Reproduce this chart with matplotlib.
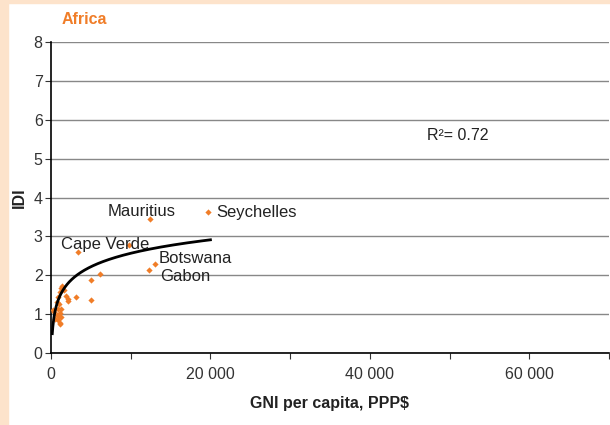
import numpy as np
import matplotlib.pyplot as plt
from matplotlib.patches import Rectangle
from matplotlib.ticker import FuncFormatter

# GNI per capita (PPP$) and IDI for African countries
gni = [19750, 12400, 9750, 3400, 13100, 12250, 6200, 4960, 3080, 4960,
       1420, 1250, 1580, 1170, 1830, 2080, 2170, 920, 710, 1000,
       250, 420, 920, 1250, 710, 1000, 1250, 920, 1080, 500, 1125, 1125]
idi = [3.62, 3.44, 2.78, 2.60, 2.29, 2.13, 2.02, 1.88, 1.44, 1.37,
       1.72, 1.67, 1.62, 1.58, 1.47, 1.40, 1.34, 1.43, 1.32, 1.27,
       1.10, 1.06, 1.12, 1.12, 0.98, 0.93, 0.92, 0.85, 0.76, 0.87, 1.04, 0.74]

labels = ['Mauritius', 'Seychelles', 'Cape Verde', 'Botswana', 'Gabon']
label_x = [7125, 20750, 1250, 13500, 13750]
label_y = [3.65, 3.62, 2.80, 2.42, 1.98]

# logarithmic trend line y = a*ln(x) + b
trend_a = 0.50
trend_b = -2.04
trend_range = [160, 20000]
r2_text = 'R\u00b2= 0.72'

orange = '#F07D28'
peach = '#FDE3CB'

plt.rcParams['font.family'] = ['Liberation Sans', 'DejaVu Sans']

fig = plt.figure(figsize=(6.1, 4.25), dpi=100)
# peach frame strips on left and top
fig.patches.append(Rectangle((0, 0), 8 / 610, 1, transform=fig.transFigure,
                             color=peach, zorder=0))
fig.patches.append(Rectangle((0, 1 - 3 / 425), 1, 3 / 425, transform=fig.transFigure,
                             color=peach, zorder=0))

ax = fig.add_axes([51 / 610, 72 / 425, 558 / 610, 311 / 425])

ax.scatter(gni, idi, marker='D', s=10, color=orange, zorder=3, linewidths=0)

xs = np.linspace(trend_range[0], trend_range[1], 300)
ax.plot(xs, trend_a * np.log(xs) + trend_b, color='black', lw=2, zorder=4)

for t, x, y in zip(labels, label_x, label_y):
    ax.text(x, y, t, fontsize=12, va='center', ha='left', color='#222222')
ax.text(47125, 5.60, r2_text, fontsize=11.5, va='center', ha='left', color='#222222')

ax.set_xlim(0, 70000)
ax.set_ylim(0, 8)
ax.set_yticks(range(0, 9))
ax.set_xticks(range(0, 70001, 10000))
ax.xaxis.set_major_formatter(FuncFormatter(
    lambda v, p: '' if v % 20000 else ('%d' % v if v == 0 else '{:,}'.format(int(v)).replace(',', ' '))))
ax.grid(axis='y', color='#888888', lw=1)
ax.set_axisbelow(True)
for s in ['top', 'right']:
    ax.spines[s].set_visible(False)
ax.spines['left'].set_linewidth(1.2)
ax.spines['bottom'].set_linewidth(1.2)
ax.tick_params(axis='both', labelsize=11.5, colors='#333333', length=4, width=0.8)
ax.tick_params(axis='y', pad=2)
ax.tick_params(axis='x', pad=6)

ax.set_ylabel('IDI', fontsize=11.5, fontweight='bold', color='#222222', labelpad=5)
ax.set_xlabel('GNI per capita, PPP$', fontsize=11.5, fontweight='bold',
              color='#222222', labelpad=10)
fig.text(62 / 610, 1 - 20 / 425, 'Africa', fontsize=11.5, fontweight='bold',
         color=orange, va='center', ha='left')

fig.savefig('out.png', dpi=100)
